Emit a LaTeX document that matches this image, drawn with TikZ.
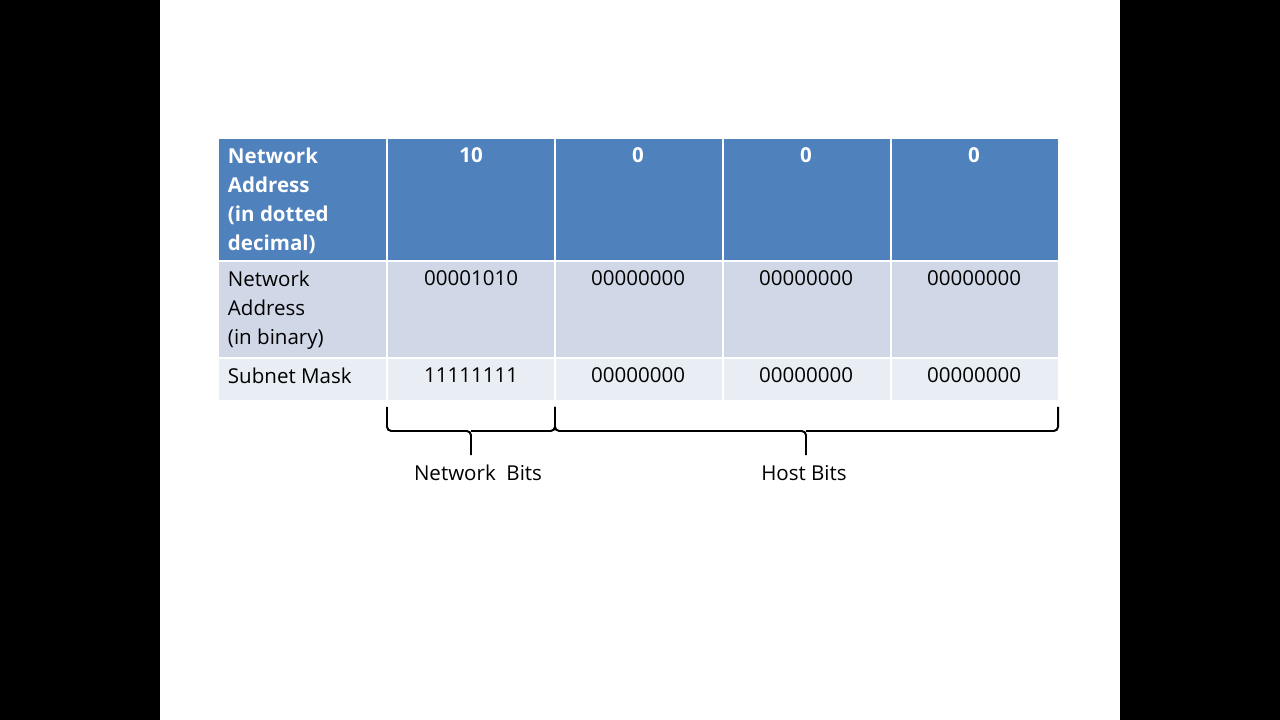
\documentclass[tikz,border=0pt]{standalone}
\usepackage{fontspec}
\setmainfont{Open Sans}
\definecolor{hdr}{HTML}{4F81BD}
\definecolor{rowa}{HTML}{D0D8E8}
\definecolor{rowb}{HTML}{E9EDF4}
\tikzset{cell/.style={anchor=north,font=\fontsize{14.6}{20.7}\selectfont},
  lbl/.style={cell,anchor=north west,align=left},
  brc/.style={line width=1.4pt,rounded corners=3pt}}
\begin{document}
\begin{tikzpicture}[x=0.025cm,y=-0.025cm]
% Background
\fill[black] (0,0) rectangle (1280,720);
\fill[white] (160,0) rectangle (1120,720);
% Rows
\fill[hdr] (219,139) rectangle (1058,260);
\fill[rowa] (219,262) rectangle (1058,357);
\fill[rowb] (219,359) rectangle (1058,400);
\foreach \x in {387,555,723,891} \draw[white,line width=1pt] (\x,139) -- (\x,400);
% Labels
\node[lbl,text=white,font=\fontsize{14.6}{20.7}\selectfont\bfseries] (h0) at (223,143) {Network\\Address\\(in dotted\\decimal)};
\node[lbl] (b0) at (223,266) {Network\\Address\\(in binary)};
\node[lbl] (m0) at (223,363) {Subnet Mask};
% Values
\foreach \i/\x/\d/\b/\m in {1/471/10/00001010/11111111,2/638/0/00000000/00000000,3/806/0/00000000/00000000,4/974/0/00000000/00000000}{
  \node[cell,text=white,font=\fontsize{14.6}{20.7}\selectfont\bfseries] (h\i) at (\x,143) {\d};
  \node[cell] (b\i) at (\x,266) {\b};
  \node[cell] (m\i) at (\x,363) {\m};}
% Braces
\coordinate (n1) at (387,407); \coordinate (n2) at (555,407); \coordinate (n3) at (1058,407);
\draw[brc] (n1) |- (471,431) -- (471,455) (471,431) -| (n2);
\draw[brc] (n2) |- (806,431) -- (806,455) (806,431) -| (n3);
\node[cell] (net) at (478,460) {Network\ \ Bits};
\node[cell] (host) at (804,460) {Host Bits};
\end{tikzpicture}
\end{document}
